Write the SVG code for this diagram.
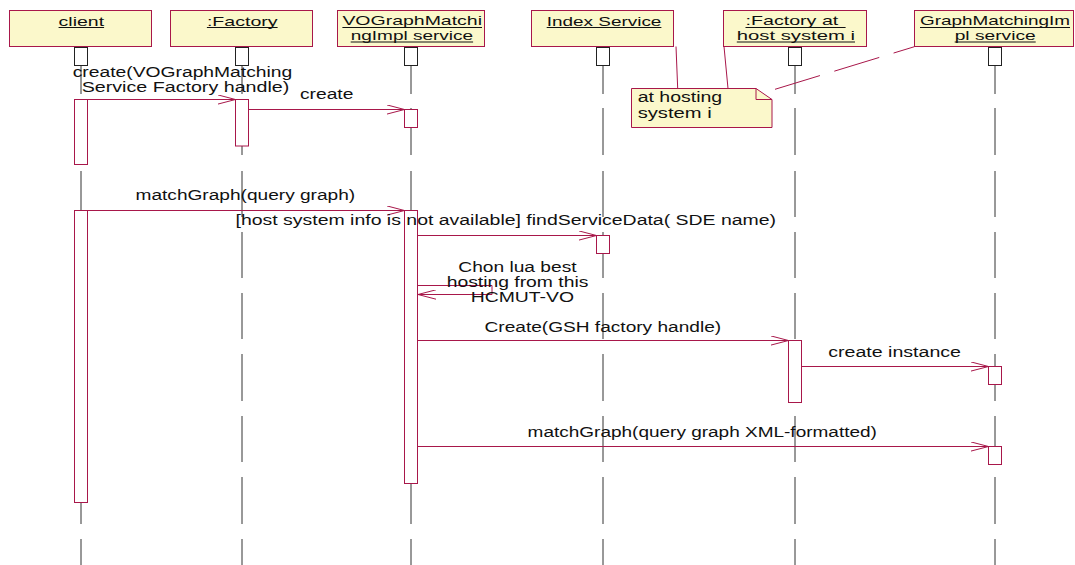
<svg xmlns="http://www.w3.org/2000/svg" xmlns:xlink="http://www.w3.org/1999/xlink" width="1075" height="565" viewBox="0 0 1075 565">
<style>
  text { font-family: "Liberation Sans", Arial, sans-serif; font-size: 14px; fill: #111; }
  text.h { font-size: 13px; }
  .hdr { fill: #fbf8cb; stroke: #a8174a; stroke-width: 1; }
  .ul { stroke: #111; stroke-width: 1; }
  .top { fill: #fff; stroke: #222; stroke-width: 1; }
  .life { fill: none; stroke: #333; stroke-width: 1; }
  .act { fill: #fff; stroke: #a8174a; stroke-width: 1; }
  .msg { fill: none; stroke: #a8174a; stroke-width: 1; }
  .note { fill: #fbf8cb; stroke: #a8174a; stroke-width: 1; }
</style>
<defs>
  <marker id="arr" viewBox="0 0 19 10" refX="18" refY="5" markerWidth="19" markerHeight="10" markerUnits="userSpaceOnUse" orient="auto">
    <path d="M0,0.3 L18,5 L0,9.7" fill="none" stroke="#a8174a" stroke-width="1"/>
  </marker>
  <path id="ll" class="life" d="M0 66V94M0 108V155M0 171V217M0 232V278M0 293V339M0 354V401M0 416V462M0 477V524M0 539V565"/>
</defs>

<g id="lifelines">
  <use xlink:href="#ll" x="81"/>
  <use xlink:href="#ll" x="242"/>
  <use xlink:href="#ll" x="411"/>
  <use xlink:href="#ll" x="603"/>
  <use xlink:href="#ll" x="795"/>
  <use xlink:href="#ll" x="995"/>
</g>

<g id="client">
  <rect class="hdr" x="9.5" y="10.5" width="142" height="36"/>
  <text class="h" x="58.6" y="25.5" textLength="45.5" lengthAdjust="spacingAndGlyphs">client</text>
  <line class="ul" x1="58.6" y1="27.5" x2="104.1" y2="27.5"/>
  <rect class="top" x="74.5" y="47.5" width="13" height="18"/>
</g>

<g id="factory">
  <rect class="hdr" x="170.5" y="10.5" width="142" height="36"/>
  <text class="h" x="206.9" y="25.5" textLength="70.7" lengthAdjust="spacingAndGlyphs">:Factory</text>
  <line class="ul" x1="206.9" y1="27.5" x2="277.6" y2="27.5"/>
  <rect class="top" x="235.5" y="47.5" width="13" height="18"/>
</g>

<g id="vographmatching">
  <rect class="hdr" x="337.5" y="10.5" width="147" height="36"/>
  <text class="h" x="342.4" y="25" textLength="139.6" lengthAdjust="spacingAndGlyphs">VOGraphMatchi</text>
  <line class="ul" x1="342.4" y1="27.5" x2="482" y2="27.5"/>
  <text class="h" x="350.7" y="40" textLength="122.4" lengthAdjust="spacingAndGlyphs">ngImpl service</text>
  <line class="ul" x1="350.7" y1="42" x2="473.1" y2="42"/>
  <rect class="top" x="404.5" y="47.5" width="13" height="18"/>
</g>

<g id="indexservice">
  <rect class="hdr" x="531.5" y="10.5" width="142" height="36"/>
  <text class="h" x="546.7" y="25.5" textLength="114.7" lengthAdjust="spacingAndGlyphs">Index Service</text>
  <line class="ul" x1="546.7" y1="27.5" x2="661.4" y2="27.5"/>
  <rect class="top" x="596.5" y="47.5" width="13" height="18"/>
</g>

<g id="factoryhost">
  <rect class="hdr" x="723.5" y="10.5" width="143" height="36"/>
  <text class="h" x="745.5" y="25" textLength="92.8" lengthAdjust="spacingAndGlyphs">:Factory at</text>
  <line class="ul" x1="745.5" y1="27.5" x2="845.6" y2="27.5"/>
  <text class="h" x="736.8" y="40" textLength="118.2" lengthAdjust="spacingAndGlyphs">host system i</text>
  <line class="ul" x1="736.8" y1="42" x2="855" y2="42"/>
  <rect class="top" x="788.5" y="47.5" width="13" height="18"/>
</g>

<g id="graphmatchingimpl">
  <rect class="hdr" x="914.5" y="10.5" width="159" height="36"/>
  <text class="h" x="920" y="25" textLength="150" lengthAdjust="spacingAndGlyphs">GraphMatchingIm</text>
  <line class="ul" x1="920" y1="27.5" x2="1070" y2="27.5"/>
  <text class="h" x="954.7" y="40" textLength="81" lengthAdjust="spacingAndGlyphs">pl service</text>
  <line class="ul" x1="954.7" y1="42" x2="1035.7" y2="42"/>
  <rect class="top" x="988.5" y="47.5" width="13" height="18"/>
</g>

<g id="note">
  <path class="note" d="M631.5,88.5 H756 L772,99.5 V127.5 H631.5 Z"/>
  <path class="msg" d="M756,88.5 V99.5 H772"/>
  <text x="637.7" y="101.7" textLength="84.5" lengthAdjust="spacingAndGlyphs">at hosting</text>
  <text x="637.7" y="117.7" textLength="74" lengthAdjust="spacingAndGlyphs">system i</text>
</g>

<g id="activations">
  <rect class="act" x="74.5" y="99.5" width="13" height="65"/>
  <rect class="act" x="235.5" y="99.5" width="13" height="46.5"/>
  <rect class="act" x="404.5" y="109.5" width="13" height="18"/>
  <rect class="act" x="74.5" y="210.5" width="13" height="292"/>
  <rect class="act" x="404.5" y="210.5" width="13" height="273"/>
  <rect class="act" x="596.5" y="235.5" width="13" height="18"/>
  <rect class="act" x="788.5" y="340.5" width="13" height="62"/>
  <rect class="act" x="988.5" y="366.5" width="13" height="18"/>
  <rect class="act" x="988.5" y="446.5" width="13" height="18"/>
</g>

<g id="connectors">
  <line class="msg" x1="676" y1="46.5" x2="677.7" y2="88.5"/>
  <line class="msg" x1="724" y1="46.5" x2="728" y2="88.5"/>
  <line class="msg" x1="775" y1="89.3" x2="914.4" y2="46.7" stroke-dasharray="47 15"/>

  <line class="msg" x1="87.5" y1="99.5" x2="235.5" y2="99.5" marker-end="url(#arr)"/>
  <line class="msg" x1="248.5" y1="109.5" x2="404.5" y2="109.5" marker-end="url(#arr)"/>
  <line class="msg" x1="87.5" y1="210.5" x2="404.5" y2="210.5" marker-end="url(#arr)"/>
  <line class="msg" x1="417.5" y1="235.5" x2="596.5" y2="235.5" marker-end="url(#arr)"/>
  <polyline class="msg" points="418,285.5 492,285.5 492,294.5 418,294.5" marker-end="url(#arr)"/>
  <line class="msg" x1="417.5" y1="340.5" x2="788.5" y2="340.5" marker-end="url(#arr)"/>
  <line class="msg" x1="801.5" y1="366.5" x2="988.5" y2="366.5" marker-end="url(#arr)"/>
  <line class="msg" x1="417.5" y1="446.5" x2="988.5" y2="446.5" marker-end="url(#arr)"/>
</g>

<g id="labels">
  <text x="72.7" y="76.5" textLength="219.6" lengthAdjust="spacingAndGlyphs">create(VOGraphMatching</text>
  <text x="81.7" y="91.7" textLength="207.6" lengthAdjust="spacingAndGlyphs">Service Factory handle)</text>
  <text x="300" y="99" textLength="53.4" lengthAdjust="spacingAndGlyphs">create</text>
  <text x="135.5" y="200" textLength="219.7" lengthAdjust="spacingAndGlyphs">matchGraph(query graph)</text>
  <text x="235.5" y="225" textLength="540.6" lengthAdjust="spacingAndGlyphs">[host system info is not available] findServiceData( SDE name)</text>
  <text x="458.3" y="272.3" textLength="118.3" lengthAdjust="spacingAndGlyphs">Chon lua best</text>
  <text x="446.7" y="287.3" textLength="141.7" lengthAdjust="spacingAndGlyphs">hosting from this</text>
  <text x="470.7" y="302.3" textLength="103.3" lengthAdjust="spacingAndGlyphs">HCMUT-VO</text>
  <text x="484.5" y="331.5" textLength="236.7" lengthAdjust="spacingAndGlyphs">Create(GSH factory handle)</text>
  <text x="828.2" y="356.5" textLength="132.8" lengthAdjust="spacingAndGlyphs">create instance</text>
  <text x="527.6" y="437.3" textLength="349.3" lengthAdjust="spacingAndGlyphs">matchGraph(query graph XML-formatted)</text>
</g>
</svg>
